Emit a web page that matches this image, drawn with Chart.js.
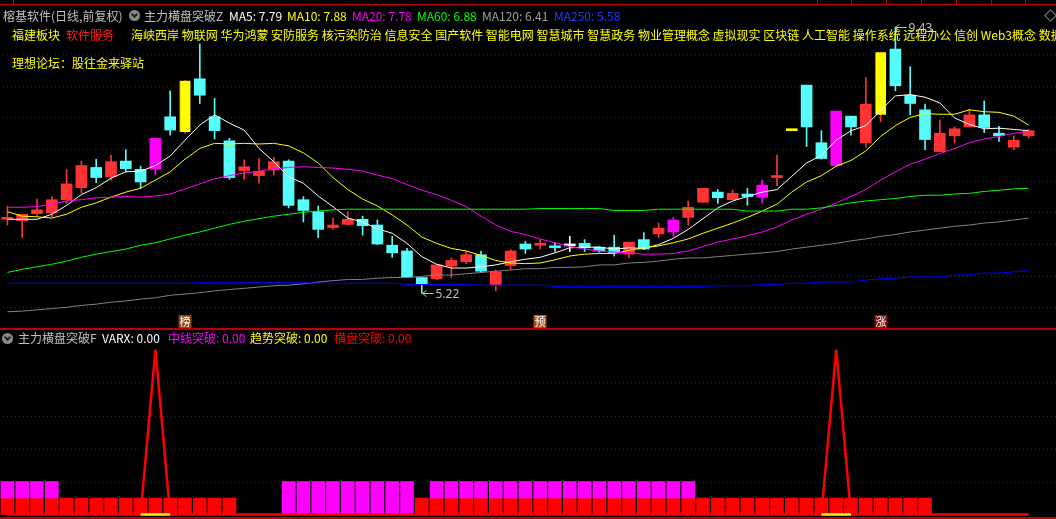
<!DOCTYPE html>
<html><head><meta charset="utf-8">
<script src="https://cdn.jsdelivr.net/npm/chart.js@4.4.1/dist/chart.umd.min.js"></script>
<style>
html,body{margin:0;padding:0;background:#000;width:1056px;height:519px;overflow:hidden;}
body{position:relative;font-family:"Noto Sans CJK SC","Noto Sans",sans-serif;font-size:12px;}
canvas{position:absolute;left:0;}
#top{top:0;}
#bot{top:329px;}
.t{position:absolute;white-space:nowrap;line-height:14px;z-index:5;}
.ln{position:absolute;background:#c00000;z-index:6;}
.ic{position:absolute;width:11px;height:11px;border-radius:50%;background:#8a8a8a;z-index:5;}
.ic:after{content:"";position:absolute;left:3px;top:2px;width:3px;height:3px;border-right:2px solid #222;border-bottom:2px solid #222;transform:rotate(45deg);}
.mk{position:absolute;width:7px;height:7px;border:1px solid #888;transform:rotate(45deg);z-index:5;}
</style></head>
<body>
<canvas id="top" width="1056" height="329"></canvas>
<canvas id="bot" width="1056" height="190"></canvas>

<div class="ln" style="left:0;top:4px;width:1056px;height:1px;"></div>
<div class="ln" style="left:13px;top:0;width:1px;height:5px;"></div>
<div class="ln" style="left:817px;top:0;width:1px;height:5px;"></div>
<div class="ln" style="left:851px;top:0;width:1px;height:5px;"></div>
<div class="ln" style="left:886px;top:0;width:1px;height:5px;"></div>
<div class="ln" style="left:921px;top:0;width:1px;height:5px;"></div>
<div class="ln" style="left:956px;top:0;width:1px;height:5px;"></div>
<div class="ln" style="left:991px;top:0;width:1px;height:5px;"></div>
<div class="ln" style="left:1025px;top:0;width:1px;height:5px;"></div>
<div class="ln" style="left:0;top:328px;width:1056px;height:2px;"></div>
<div class="ln" style="left:0;top:517px;width:1056px;height:2px;"></div>

<div class="t" style="left:3px;top:9px;color:#c0c0c0;">榕基软件(日线,前复权)</div>
<div class="ic" style="left:129px;top:10px;"></div>
<div class="t" style="left:144px;top:9px;color:#c0c0c0;">主力横盘突破Z</div>
<div class="t" style="left:229px;top:9px;color:#ffffff;">MA5: 7.79</div>
<div class="t" style="left:287px;top:9px;color:#ffff00;">MA10: 7.88</div>
<div class="t" style="left:352px;top:9px;color:#ff00ff;">MA20: 7.78</div>
<div class="t" style="left:417px;top:9px;color:#00ff00;">MA60: 6.88</div>
<div class="t" style="left:482px;top:9px;color:#a0a0a0;">MA120: 6.41</div>
<div class="t" style="left:554px;top:9px;color:#1e3cff;">MA250: 5.58</div>
<div class="mk" style="left:1046px;top:11px;"></div>

<div class="t" style="left:12px;top:28px;color:#ffff00;">福建板块</div>
<div class="t" style="left:66px;top:28px;color:#ff2020;">软件服务</div>
<div class="t" style="left:131px;top:28px;color:#ffff00;">海峡西岸 物联网 华为鸿蒙 安防服务 核污染防治 信息安全 国产软件 智能电网 智慧城市 智慧政务 物业管理概念 虚拟现实 区块链 人工智能 操作系统 远程办公 信创 Web3概念 数据要素</div>
<div class="t" style="left:12px;top:56px;color:#ffff00;">理想论坛：股往金来驿站</div>

<div class="ic" style="left:2px;top:333px;"></div>
<div class="t" style="left:18px;top:331px;color:#c0c0c0;">主力横盘突破F</div>
<div class="t" style="left:102px;top:331px;color:#ffffff;">VARX: 0.00</div>
<div class="t" style="left:168px;top:331px;color:#ff00ff;">中线突破: 0.00</div>
<div class="t" style="left:250px;top:331px;color:#ffff00;">趋势突破: 0.00</div>
<div class="t" style="left:334px;top:331px;color:#ff0000;">横盘突破: 0.00</div>

<script>
// ---------- data ----------
const days = [1,2,3,4,5,6,7,8,9,10,11,12,13,14,15,16,17,18,19,20,21,22,23,24,25,26,27,28,29,30,31,32,33,34,35,36,37,38,39,40,41,42,43,44,45,46,47,48,49,50,51,52,53,54,55,56,57,58,59,60,61,62,63,64,65,66,67,68,69,70];

const open = [6.39,6.37,6.48,6.49,6.70,6.89,7.21,7.06,7.31,7.18,
7.18,8.01,7.77,8.61,8.01,7.63,7.16,7.08,7.17,7.31,
6.70,6.51,6.26,6.31,6.39,6.30,5.98,5.89,5.47,5.45,
5.65,5.72,5.83,5.35,5.66,6.00,5.98,5.95,5.97,6.01,
5.95,5.95,5.84,6.07,6.16,6.19,6.42,6.66,6.82,6.70,
6.79,6.74,7.05,7.79,8.51,7.60,7.24,8.02,7.60,8.04,
9.08,8.35,8.12,7.46,7.71,7.85,8.04,7.75,7.53,7.71];

const close = [6.40,6.47,6.54,6.70,6.95,7.24,7.05,7.30,7.19,6.98,
7.67,7.80,8.58,8.35,7.79,7.05,7.22,7.15,7.30,6.61,
6.53,6.23,6.30,6.39,6.29,6.00,5.86,5.48,5.37,5.67,
5.74,5.83,5.57,5.56,5.89,5.92,5.99,5.94,5.97,5.94,
5.89,5.86,6.03,5.92,6.25,6.38,6.58,6.88,6.73,6.80,
6.75,6.93,7.08,7.79,7.85,7.35,8.10,7.85,8.21,9.03,
8.50,8.22,7.65,7.75,7.82,8.04,7.84,7.71,7.64,7.79];

const high = [6.60,6.47,6.71,6.75,7.18,7.31,7.34,7.40,7.49,7.23,
7.67,8.42,8.58,9.16,8.30,7.67,7.33,7.35,7.37,7.33,
6.75,6.60,6.41,6.51,6.44,6.38,6.12,5.93,5.47,5.67,
5.78,5.88,5.89,5.59,5.91,6.04,6.07,6.02,6.12,6.07,
5.96,6.14,6.03,6.18,6.33,6.42,6.68,6.88,6.86,6.85,
6.88,7.01,7.41,7.79,8.51,7.79,8.10,8.02,8.63,9.03,
9.43,8.80,8.21,7.96,7.85,8.13,8.26,7.86,7.71,7.81];

const low = [6.30,6.10,6.45,6.43,6.64,6.80,6.97,7.01,7.14,6.88,
7.09,7.72,7.75,8.22,7.66,7.02,7.02,6.96,7.09,6.57,
6.35,6.10,6.23,6.30,6.14,5.99,5.79,5.47,5.22,5.43,
5.47,5.69,5.56,5.26,5.60,5.85,5.92,5.88,5.88,5.88,
5.87,5.81,5.78,5.91,6.10,6.11,6.30,6.66,6.64,6.70,
6.61,6.65,6.92,7.79,7.54,7.34,7.24,7.72,7.53,7.93,
8.42,8.04,7.49,7.46,7.60,7.85,7.76,7.62,7.49,7.67];

const limitUpIdx = [12,53,59];
const signalIdx = [10,45,51,56];

const ma5 = [6.39,6.39,6.39,6.47,6.61,6.78,6.89,7.04,7.14,7.15,
7.24,7.39,7.64,7.88,8.04,7.91,7.80,7.51,7.30,7.06,
6.96,6.76,6.59,6.41,6.35,6.24,6.17,6.01,5.80,5.68,
5.62,5.62,5.64,5.67,5.72,5.76,5.79,5.86,5.94,5.95,
5.95,5.92,5.94,5.93,5.99,6.09,6.23,6.40,6.57,6.68,
6.75,6.82,6.86,7.07,7.28,7.40,7.64,7.79,7.87,8.11,
8.34,8.36,8.32,8.23,7.99,7.89,7.82,7.83,7.81,7.79];

const ma10 = [6.51,6.44,6.43,6.41,6.47,6.58,6.65,6.74,6.82,6.88,
7.01,7.14,7.34,7.51,7.59,7.58,7.59,7.58,7.59,7.55,
7.44,7.28,7.05,6.86,6.71,6.60,6.46,6.30,6.11,6.01,
5.93,5.89,5.82,5.74,5.70,5.69,5.70,5.75,5.81,5.84,
5.85,5.85,5.90,5.94,5.97,6.02,6.08,6.17,6.25,6.33,
6.42,6.52,6.63,6.82,6.98,7.08,7.23,7.32,7.47,7.70,
7.87,8.00,8.06,8.05,8.05,8.12,8.09,8.08,8.02,7.88];

const ma20 = [6.58,6.58,6.59,6.63,6.68,6.70,6.73,6.74,6.75,6.74,
6.76,6.79,6.87,6.95,7.03,7.08,7.12,7.15,7.19,7.21,
7.22,7.21,7.20,7.18,7.15,7.09,7.03,6.94,6.85,6.78,
6.69,6.59,6.44,6.30,6.20,6.15,6.08,6.02,5.96,5.92,
5.89,5.87,5.86,5.84,5.84,5.85,5.89,5.96,6.03,6.08,
6.13,6.19,6.27,6.38,6.47,6.55,6.65,6.75,6.86,7.01,
7.14,7.26,7.34,7.43,7.51,7.60,7.66,7.70,7.75,7.78];

const ma60 = [5.55,5.60,5.64,5.68,5.73,5.79,5.84,5.88,5.92,5.98,
6.02,6.08,6.14,6.19,6.25,6.31,6.36,6.40,6.44,6.47,
6.50,6.52,6.54,6.55,6.55,6.55,6.55,6.55,6.55,6.55,
6.55,6.55,6.55,6.55,6.55,6.55,6.56,6.56,6.56,6.56,
6.56,6.53,6.53,6.53,6.55,6.55,6.55,6.55,6.55,6.55,
6.52,6.52,6.52,6.55,6.55,6.57,6.61,6.65,6.68,6.70,
6.72,6.75,6.77,6.77,6.79,6.80,6.83,6.85,6.87,6.88];

const ma120 = [4.93,4.94,4.96,4.98,5.00,5.03,5.05,5.08,5.10,5.13,
5.15,5.19,5.21,5.23,5.26,5.28,5.30,5.32,5.34,5.35,
5.37,5.40,5.42,5.44,5.44,5.46,5.47,5.47,5.49,5.51,
5.51,5.53,5.55,5.57,5.59,5.61,5.61,5.63,5.63,5.64,
5.67,5.67,5.70,5.71,5.73,5.76,5.78,5.78,5.80,5.82,
5.84,5.86,5.88,5.92,5.95,5.98,6.01,6.05,6.08,6.12,
6.15,6.19,6.22,6.25,6.28,6.30,6.33,6.35,6.38,6.41];

const ma250 = [5.38,5.38,5.38,5.38,5.38,5.38,5.38,5.38,5.38,5.38,
5.38,5.38,5.38,5.39,5.39,5.39,5.39,5.39,5.39,5.39,
5.39,5.38,5.38,5.38,5.38,5.38,5.38,5.36,5.36,5.36,
5.36,5.36,5.35,5.35,5.35,5.35,5.35,5.33,5.33,5.33,
5.33,5.33,5.33,5.33,5.33,5.33,5.33,5.33,5.34,5.34,
5.34,5.36,5.36,5.38,5.38,5.40,5.40,5.40,5.43,5.45,
5.46,5.48,5.48,5.48,5.51,5.51,5.54,5.54,5.56,5.58];

const priceGrid = [5.0,5.5,6.0,6.5,7.0,7.5,8.0,8.5,9.0];
const markIdx = [12,36,59];
const markText = ['榜','预','涨'];

// lower pane
const varxBar = [0.5,0.5,0.5,0.5,0.5,0.5,0.5,0.5,0.5,0.5,
0.5,0.5,0.5,0.5,0.5,0.5,0,0,0,0,
0,0,0,0,0,0,0,0,0.5,0.5,
0.5,0.5,0.5,0.5,0.5,0.5,0.5,0.5,0.5,0.5,
0.5,0.5,0.5,0.5,0.5,0.5,0.5,0.5,0.5,0.5,
0.5,0.5,0.5,0.5,0.5,0.5,0.5,0.5,0.5,0.5,
0.5,0.5,0.5,0,0,0,0,0,0,0];
const midBreak = [0.5,0.5,0.5,0.5,0,0,0,0,0,0,
0,0,0,0,0,0,0,0,0,1,
1,1,1,1,1,1,1,1,0,0.5,
0.5,0.5,0.5,0.5,0.5,0.5,0.5,0.5,0.5,0.5,
0.5,0.5,0.5,0.5,0.5,0.5,0.5,0,0,0,
0,0,0,0,0,0,0,0,0,0,
0,0,0,0,0,0,0,0,0,0];
const boxBreak = [0,0,0,0,0,0,0,0,0,0,
5,0,0,0,0,0,0,0,0,0,
0,0,0,0,0,0,0,0,0,0,
0,0,0,0,0,0,0,0,0,0,
0,0,0,0,0,0,0,0,0,0,
0,0,0,0,0,0,5,0,0,0,
0,0,0,0,0,0,0,0,0,0];
const trendBreak = [null,null,null,null,null,null,null,null,null,0,
0,0,null,null,null,null,null,null,null,null,
null,null,null,null,null,null,null,null,null,null,
null,null,null,null,null,null,null,null,null,null,
null,null,null,null,null,null,null,null,null,null,
null,null,null,null,null,0,0,0,null,null,
null,null,null,null,null,null,null,null,null,null];
const lowerGrid = [1,2,3,4];

// ---------- helpers ----------
const RED='#ff3333', CYAN='#54fcfc', MAG='#ff00ff', YEL='#ffff00', WHITE='#ffffff';
function bodyColor(i){
  if (limitUpIdx.includes(i)) return YEL;
  if (signalIdx.includes(i)) return MAG;
  if (close[i] > open[i]) return RED;
  if (close[i] < open[i]) return CYAN;
  return WHITE;
}
function wickColor(i){
  if (limitUpIdx.includes(i)) return RED;
  return bodyColor(i);
}

const gridPlugin = {
  id: 'dotGrid',
  beforeDatasetsDraw(chart, args, opts){
    const {ctx} = chart; const y = chart.scales.y;
    ctx.save();
    ctx.strokeStyle = '#a00000'; ctx.lineWidth = 1; ctx.setLineDash([1,3]);
    for (const v of opts.values){
      const py = Math.round(y.getPixelForValue(v)) + 0.5;
      ctx.beginPath(); ctx.moveTo(3, py); ctx.lineTo(chart.width, py); ctx.stroke();
    }
    ctx.restore();
  }
};

const notePlugin = {
  id: 'notes',
  afterDatasetsDraw(chart){
    const {ctx, chartArea} = chart; const x = chart.scales.x, y = chart.scales.y;
    ctx.save();
    // markers
    const boxCols = ['#8b4513','#b44a12','#8b0a0a'];
    ctx.font = '11px "Noto Sans CJK SC"'; ctx.textAlign='center'; ctx.textBaseline='middle';
    markIdx.forEach((idx,k)=>{
      const px = Math.round(x.getPixelForValue(idx));
      const top = chartArea.bottom - 13;
      ctx.fillStyle = boxCols[k]; ctx.fillRect(px-6.5, top, 13, 13);
      ctx.fillStyle = '#ffffff'; ctx.fillText(markText[k], px, top+6.5);
    });
    // min / max price labels
    let lo = 0, hi = 0;
    for (let i=1;i<low.length;i++){ if (low[i] < low[lo]) lo = i; if (high[i] > high[hi]) hi = i; }
    const lab = (idx, val) => {
      const px = Math.round(x.getPixelForValue(idx)) + 0.5;
      const py = Math.round(y.getPixelForValue(val)) + 0.5;
      ctx.strokeStyle = '#c0c0c0'; ctx.lineWidth = 1; ctx.setLineDash([]);
      ctx.beginPath(); ctx.moveTo(px, py); ctx.lineTo(px+11, py);
      ctx.moveTo(px, py); ctx.lineTo(px+4, py-3);
      ctx.moveTo(px, py); ctx.lineTo(px+4, py+3); ctx.stroke();
      ctx.fillStyle = '#c0c0c0'; ctx.font = '12px "Noto Sans"'; ctx.textAlign='left'; ctx.textBaseline='middle';
      ctx.fillText(val.toFixed(2), px+13, py+1);
    };
    lab(lo, low[lo]);
    lab(hi, high[hi]);
    ctx.restore();
  }
};

const common = {
  responsive:false, animation:false, devicePixelRatio:1, events:[],
  plugins:{legend:{display:false}, tooltip:{enabled:false}}
};
const lineDs = (data, color) => ({type:'line', data, borderColor:color, borderWidth:1, pointRadius:0, tension:0, fill:false, order:0, spanGaps:false});

// ---------- top chart ----------
new Chart(document.getElementById('top'), {
  type:'bar',
  data:{
    labels: days,
    datasets:[
      {data: days.map((d,i)=>[low[i], high[i]]), backgroundColor: days.map((d,i)=>wickColor(i)),
       barThickness:1, grouped:false, order:3},
      {data: days.map((d,i)=>[open[i], close[i]]), backgroundColor: days.map((d,i)=>bodyColor(i)),
       borderColor: RED, borderSkipped:false,
       borderWidth: days.map((d,i)=> (limitUpIdx.includes(i) && open[i]!==close[i]) ? {left:1,right:0,top:0,bottom:0} : 0),
       barThickness:11, minBarLength:2, grouped:false, order:2},
      lineDs(ma250, '#0000ff'),
      lineDs(ma120, '#808080'),
      lineDs(ma60, '#00ff00'),
      lineDs(ma20, '#ff00ff'),
      lineDs(ma10, '#ffff00'),
      lineDs(ma5, '#ffffff')
    ]
  },
  options:Object.assign({}, common, {
    layout:{padding:{left:0,right:20,top:6,bottom:1}},
    scales:{
      x:{type:'category', display:false, offset:true},
      y:{display:false, min:4.673, max:9.760}
    },
    plugins:Object.assign({}, common.plugins, {dotGrid:{values:priceGrid}})
  }),
  plugins:[gridPlugin, notePlugin]
});

// ---------- bottom chart ----------
new Chart(document.getElementById('bot'), {
  type:'bar',
  data:{
    labels: days,
    datasets:[
      {data: varxBar.map(v=> v>0 ? [0, v] : null), backgroundColor:'#ff0000', barThickness:13, grouped:false, order:3},
      {data: midBreak.map((v,i)=> v>0 ? [varxBar[i], varxBar[i]+v] : null), backgroundColor:'#ff00ff', barThickness:13, grouped:false, order:2},
      {type:'line', data: boxBreak, borderColor:'#ff0000', borderWidth:2.5, pointRadius:0, tension:0, order:1},
      {type:'line', data: trendBreak, borderColor:'#ffff00', borderWidth:2.5, pointRadius:0, tension:0, order:0, spanGaps:false}
    ]
  },
  options:Object.assign({}, common, {
    layout:{padding:{left:0,right:20,top:0,bottom:0}},
    scales:{
      x:{type:'category', display:false, offset:true},
      y:{display:false, min:-0.136, max:5.621}
    },
    plugins:Object.assign({}, common.plugins, {dotGrid:{values:lowerGrid}})
  }),
  plugins:[gridPlugin]
});
</script>
</body></html>
